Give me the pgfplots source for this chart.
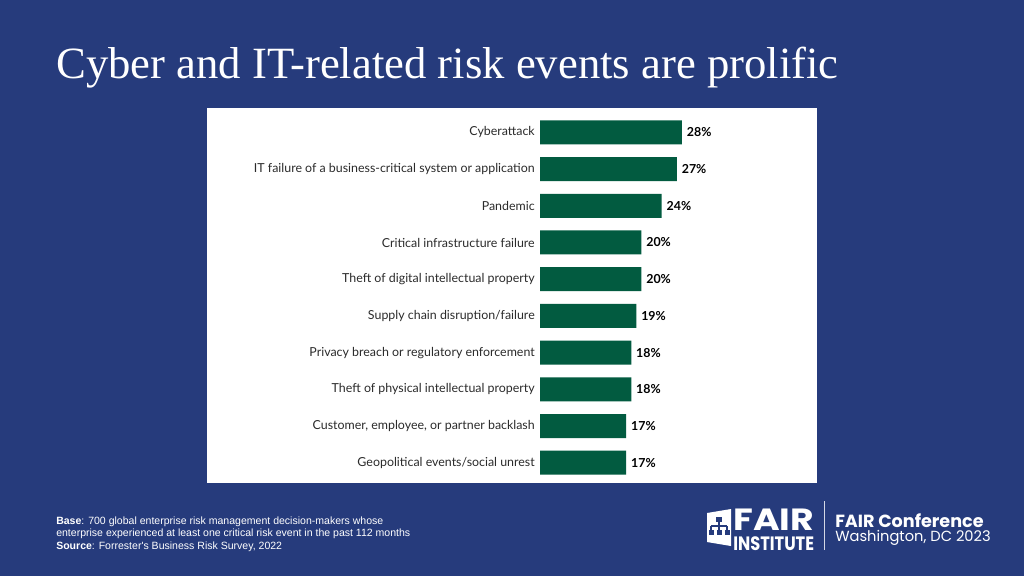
\documentclass[border=0pt]{standalone}
\usepackage{fontspec}
\setmainfont{Lato}
\newfontfamily\titlefont{Liberation Serif}
\newfontfamily\footfont{Liberation Sans}
\newfontfamily\logofont{Poppins}
\usepackage{pgfplots}
\pgfplotsset{compat=1.18}
\definecolor{bg}{HTML}{263B7C}
\definecolor{barc}{HTML}{025B40}
\definecolor{lbl}{HTML}{2B2B2B}
\begin{document}
\begin{tikzpicture}[x=0.75pt,y=-0.75pt]
\fill[bg] (0,0) rectangle (1024,576);
\useasboundingbox (0,0) rectangle (1024,576);
\fill[white] (207,108) rectangle (817,483);
\node[anchor=base west, inner sep=0pt, text=white, font=\titlefont\fontsize{33.5}{40}\selectfont] at (56,78) {Cyber and IT-related risk events are prolific};
\coordinate (A) at (540,114);
\begin{axis}[
  at={(A)}, anchor=north west,
  scale only axis, width=114.1pt, height=275.3pt,
  xmin=0, xmax=30, ymin=-0.5, ymax=9.5, y dir=reverse,
  xbar, bar width=18pt, clip=false,
  axis line style={draw=none}, major tick length=0pt,
  xtick=\empty,
  ytick={0,...,9},
  yticklabels={Cyberattack, IT failure of a business-critical system or application, Pandemic, Critical infrastructure failure, Theft of digital intellectual property, Supply chain disruption/failure, Privacy breach or regulatory enforcement, Theft of physical intellectual property, {Customer, employee, or partner backlash}, Geopolitical events/social unrest},
  yticklabel style={font=\fontsize{9.3}{10}\selectfont, text=lbl, inner sep=0pt, xshift=-3.75pt},
  point meta=x,
  nodes near coords={\pgfmathprintnumber{\pgfplotspointmeta}\%},
  nodes near coords style={anchor=west, inner sep=0pt, xshift=3.5pt, font=\bfseries\fontsize{9.3}{10}\selectfont, text=black},
  /pgf/number format/assume math mode=true,
]
\addplot[fill=barc, draw=none] coordinates {(28,0) (27,1) (24,2) (20,3) (20,4) (19,5) (18,6) (18,7) (17,8) (17,9)};
\end{axis}
\node[anchor=base west, inner sep=0pt, text=white, font=\footfont\fontsize{7.9}{9.2}\selectfont, align=left] at (56,549) {\textbf{Base}: 700 global enterprise risk management decision-makers whose\\enterprise experienced at least one critical risk event in the past 112 months\\\textbf{Source}: Forrester's Business Risk Survey, 2022};
% logo
\fill[white] (707,513) -- (731,509) -- (731,546) -- (707,542) -- cycle;
\fill[bg] (716,517) rectangle (722,522);
\draw[bg, line width=0.8pt] (719,522) -- (719,526) (711,526) -- (727,526) (711,526) -- (711,530) (719,526) -- (719,530) (727,526) -- (727,530);
\fill[bg] (709,530) rectangle (714,535);
\fill[bg] (717,530) rectangle (722,535);
\fill[bg] (725,530) rectangle (730,535);
\node[anchor=base west, inner sep=0pt, text=white] at (733,550) {\vbox{\offinterlineskip\logofont\bfseries
  \hbox{\scalebox{1.18}[1]{\fontsize{23}{24}\selectfont FAIR}}\kern 4pt
  \hbox{\scalebox{0.84}[1]{\fontsize{14.5}{15}\selectfont INSTITUTE}}}};
\draw[white!80!bg, line width=0.75pt] (824,501) -- (824,550);
\node[anchor=base west, inner sep=0pt, text=white, font=\logofont\bfseries\fontsize{13.2}{13}\selectfont] at (835,527) {FAIR Conference};
\node[anchor=base west, inner sep=0pt, text=white, font=\logofont\fontsize{11}{11}\selectfont] at (835,541) {Washington, DC 2023};
\end{tikzpicture}
\end{document}
